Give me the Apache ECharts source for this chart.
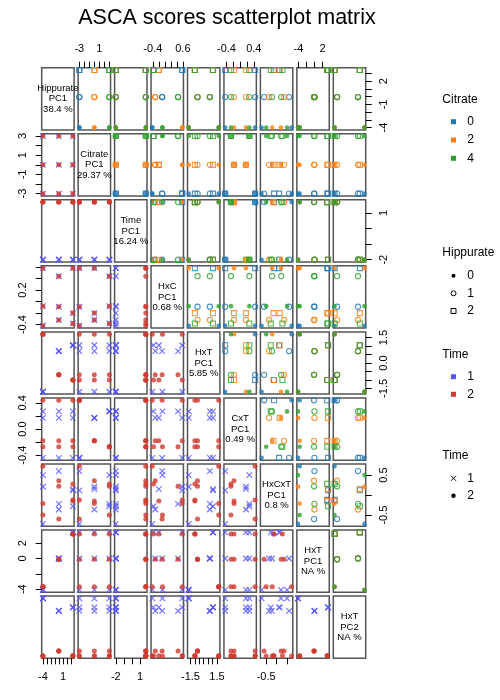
<!DOCTYPE html>
<html>
<head>
<meta charset="utf-8">
<script src="https://cdn.jsdelivr.net/npm/echarts@6/dist/echarts.min.js"></script>
<style>
html, body { margin: 0; padding: 0; background: #fff; }
#chart { width: 500px; height: 700px; }
</style>
</head>
<body>
<div id="chart"></div>
<script>
// design factors
var hippurateLevels = ['0', '1', '2'];
var citrateLevels = ['0', '2', '4'];
var timeLevels = ['1', '2'];

// diagonal captions
var varNames = ['Hippurate', 'Citrate', 'Time', 'HxC', 'HxT', 'CxT', 'HxCxT', 'HxT', 'HxT'];
var varComps = ['PC1', 'PC1', 'PC1', 'PC1', 'PC1', 'PC1', 'PC1', 'PC1', 'PC2'];
var varPercent = ['38.4 %', '29.37 %', '16.24 %', '0.68 %', '5.85 %', '0.49 %', '0.8 %', 'NA %', 'NA %'];

// scores
var hippurateScore = [-4.0, -0.05, 3.45];               // [H]
var citrateScore = [-3.0, 0.0, 3.0];                    // [C]
var timeScore = [-2.0, 1.7];                            // [T]
var hxcScore = [[-0.42, 0.58, -0.08],                   // [H][C]
                [-0.09, -0.32, 0.44],
                [0.58, -0.2, -0.38]];
var hxtScore = [[-1.7, 1.7], [0.7, -0.7], [1.05, -1.0]]; // [H][T]
var cxtScore = [[-0.44, 0.44], [0.17, -0.18], [0.27, -0.27]]; // [C][T]
var hxcxtScore = [                                       // [H][C][T]
  [[-0.72, 0.72], [0.21, -0.21], [0.5, -0.5]],
  [[0.6, -0.6], [-0.36, 0.36], [-0.22, 0.22]],
  [[0.12, -0.12], [0.15, -0.15], [-0.28, 0.28]]
];
var hxtPc1Score = [[-4.1, -3.7], [0.0, -0.1], [3.4, 3.2]];     // [H][T]
var hxtPc2Score = [[2.4, -1.9], [1.47, -1.53], [1.73, -1.88]]; // [H][T]

// axis ticks and the labelled ones
var tickValues = [
  [-4, -3, -2, -1, 0, 1, 2, 3],
  [-3, -2, -1, 0, 1, 2, 3],
  [-2, -1, 0, 1],
  [-0.4, -0.2, 0, 0.2, 0.4, 0.6],
  [-1.5, -1, -0.5, 0, 0.5, 1, 1.5],
  [-0.4, -0.2, 0, 0.2, 0.4],
  [-0.5, 0, 0.5],
  [-4, -2, 0, 2],
  [-2, -1, 0, 1, 2]
];
var labelsAcross = [[-4, 1], [-3, 1], [-2, 1], [-0.4, 0.6], [-1.5, 1.5], [-0.4, 0.4], [-0.5], [-4, 2], [-2, 1]];
var labelsDown = [[2, -1, -4], [3, 1, -1, -3], [1, -2], [0.2, -0.4], [1.5, 0, -1.5], [0.4, 0, -0.4], [0.5, -0.5], [2, 0, -4], [2, 0, -2]];
var labelDigits = [0, 0, 0, 1, 1, 1, 1, 0, 0];

var citrateColors = ['#1f77b4', '#ff7f0e', '#2ca02c'];
var timeColors = ['#5454f8', '#d0392f'];
var FONT = '"Liberation Sans", Arial, sans-serif';

var LEFT0 = 41.7, PITCH_X = 36.45, W = 32.4;
var TOP0 = 67.7, PITCH_Y = 66.05, H = 62.2;
var N = varNames.length;

// one row per design cell
var obs = [];
citrateLevels.forEach(function (cl, c) {
  timeLevels.forEach(function (tl, t) {
    hippurateLevels.forEach(function (hl, h) {
      obs.push({
        h: h, c: c, t: t,
        v: [hippurateScore[h], citrateScore[c], timeScore[t], hxcScore[h][c], hxtScore[h][t],
            cxtScore[c][t], hxcxtScore[h][c][t], hxtPc1Score[h][t], hxtPc2Score[h][t]]
      });
    });
  });
});

var ranges = varNames.map(function (_, k) {
  var vals = obs.map(function (o) { return o.v[k]; });
  var lo = Math.min.apply(null, vals), hi = Math.max.apply(null, vals);
  var pad = (hi - lo) * 0.04;
  return [lo - pad, hi + pad];
});

function fmt(k) {
  return function (v) { return Number(v).toFixed(labelDigits[k]); };
}

function upperStyle(o) {
  var col = citrateColors[o.c];
  if (o.h === 0) return { symbol: 'circle', symbolSize: 4.6, itemStyle: { color: col } };
  if (o.h === 1) return { symbol: 'circle', symbolSize: 5.2, itemStyle: { color: 'rgba(0,0,0,0)', borderColor: col, borderWidth: 1.1 } };
  return { symbol: 'rect', symbolSize: 5, itemStyle: { color: 'rgba(0,0,0,0)', borderColor: col, borderWidth: 1.1 } };
}

function lowerStyle(o) {
  var col = timeColors[o.t];
  if (o.t === 0) return { symbol: 'path://M0,0L10,10M10,0L0,10', symbolSize: 5.5, itemStyle: { color: 'rgba(0,0,0,0)', borderColor: col, borderWidth: 1.2 } };
  return { symbol: 'circle', symbolSize: 5, itemStyle: { color: col } };
}

var grids = [], xAxes = [], yAxes = [], series = [], graphics = [];

for (var i = 0; i < N; i++) {
  for (var j = 0; j < N; j++) {
    var k = i * N + j;
    var diag = i === j;
    grids.push({
      left: LEFT0 + j * PITCH_X, top: TOP0 + i * PITCH_Y, width: W, height: H,
      show: true, borderColor: '#555', borderWidth: 1.5, backgroundColor: 'rgba(0,0,0,0)'
    });
    var showX = !diag && ((i === 0 && j % 2 === 1) || (i === N - 1 && j % 2 === 0));
    var showY = !diag && ((j === 0 && i % 2 === 1) || (j === N - 1 && i % 2 === 0));
    xAxes.push({
      gridIndex: k, type: 'value', min: ranges[j][0], max: ranges[j][1],
      position: i === 0 ? 'top' : 'bottom',
      axisLine: { show: false, onZero: false }, splitLine: { show: false },
      axisTick: { show: showX, customValues: tickValues[j], length: 6, lineStyle: { color: '#000', width: 1 } },
      axisLabel: { show: showX, customValues: labelsAcross[j], formatter: fmt(j), fontSize: 11, color: '#000', margin: 13, fontFamily: FONT }
    });
    yAxes.push({
      gridIndex: k, type: 'value', min: ranges[i][0], max: ranges[i][1],
      position: j === N - 1 ? 'right' : 'left',
      axisLine: { show: false, onZero: false }, splitLine: { show: false },
      axisTick: { show: showY, customValues: tickValues[i], length: 6, lineStyle: { color: '#000', width: 1 } },
      axisLabel: { show: showY, customValues: labelsDown[i], formatter: fmt(i), fontSize: 11, color: '#000', margin: 13, rotate: 90, fontFamily: FONT }
    });

    if (diag) {
      graphics.push({
        type: 'text',
        x: LEFT0 + j * PITCH_X + W / 2, y: TOP0 + i * PITCH_Y + H / 2,
        style: {
          text: varNames[i] + '\n' + varComps[i] + '\n' + varPercent[i],
          align: 'center', verticalAlign: 'middle', fill: '#000',
          font: '9.5px ' + FONT, lineHeight: 10.5
        }
      });
      continue;
    }

    var upper = i < j;
    series.push({
      type: 'scatter', xAxisIndex: k, yAxisIndex: k, silent: true, animation: false,
      data: obs.map(function (o) {
        var s = upper ? upperStyle(o) : lowerStyle(o);
        s.value = [o.v[j], o.v[i]];
        return s;
      })
    });
  }
}

// title
graphics.push({
  type: 'text', x: 227, y: 18,
  style: { text: 'ASCA scores scatterplot matrix', align: 'center', verticalAlign: 'middle', fill: '#000', font: '21.5px ' + FONT }
});

// keys on the right
function keyTitle(txt, y) {
  graphics.push({ type: 'text', x: 442.3, y: y, style: { text: txt, verticalAlign: 'middle', fill: '#000', font: '12px ' + FONT } });
}
function keyLabel(txt, y) {
  graphics.push({ type: 'text', x: 467.3, y: y, style: { text: txt, verticalAlign: 'middle', fill: '#000', font: '12px ' + FONT } });
}
function keySquare(col, y) {
  graphics.push({ type: 'rect', shape: { x: 451, y: y - 2.5, width: 5, height: 5 }, style: { fill: col } });
}

keyTitle('Citrate', 100);
citrateLevels.forEach(function (lv, n) {
  var y = 121.7 + n * 18.3;
  keySquare(citrateColors[n], y);
  keyLabel(lv, y);
});

keyTitle('Hippurate', 252.3);
var hipY = [275.7, 293.3, 311];
graphics.push({ type: 'circle', shape: { cx: 453.5, cy: hipY[0], r: 2 }, style: { fill: '#000' } });
graphics.push({ type: 'circle', shape: { cx: 453.5, cy: hipY[1], r: 2.5 }, style: { fill: 'none', stroke: '#000', lineWidth: 1 } });
graphics.push({ type: 'rect', shape: { x: 451, y: hipY[2] - 2.5, width: 5, height: 5 }, style: { fill: 'none', stroke: '#000', lineWidth: 1 } });
hippurateLevels.forEach(function (lv, n) { keyLabel(lv, hipY[n]); });

keyTitle('Time', 354.3);
timeLevels.forEach(function (lv, n) {
  var y = 376.7 + n * 17.6;
  keySquare(timeColors[n], y);
  keyLabel(lv, y);
});

keyTitle('Time', 456);
var timeY = [478.3, 495.7];
graphics.push({ type: 'line', shape: { x1: 451, y1: timeY[0] - 2.5, x2: 456, y2: timeY[0] + 2.5 }, style: { stroke: '#000', lineWidth: 1 } });
graphics.push({ type: 'line', shape: { x1: 456, y1: timeY[0] - 2.5, x2: 451, y2: timeY[0] + 2.5 }, style: { stroke: '#000', lineWidth: 1 } });
graphics.push({ type: 'circle', shape: { cx: 453.5, cy: timeY[1], r: 2.2 }, style: { fill: '#000' } });
timeLevels.forEach(function (lv, n) { keyLabel(lv, timeY[n]); });

var myChart = echarts.init(document.getElementById('chart'), null, { renderer: 'canvas' });
myChart.setOption({
  backgroundColor: '#fff',
  animation: false,
  grid: grids,
  xAxis: xAxes,
  yAxis: yAxes,
  series: series,
  graphic: graphics
});
</script>
</body>
</html>
